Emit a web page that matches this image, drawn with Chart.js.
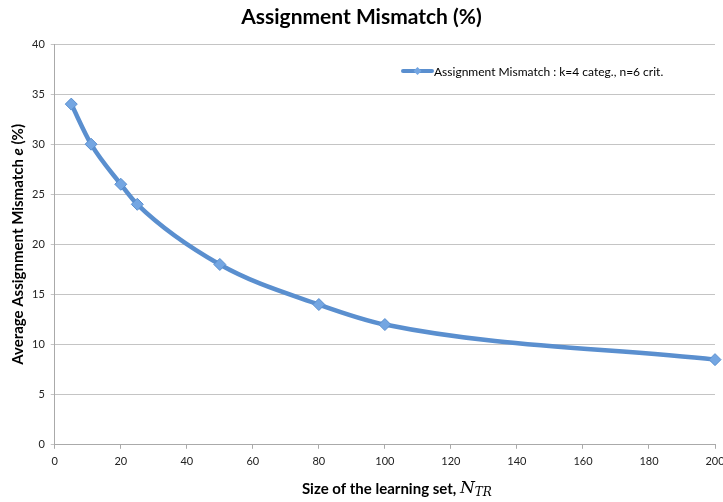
<!DOCTYPE html>
<html>
<head>
<meta charset="utf-8">
<script src="https://cdn.jsdelivr.net/npm/chart.js@4"></script>
<style>
  html, body { margin: 0; padding: 0; background: #fff; overflow: hidden; }
  #box { width: 723px; height: 502px; }
</style>
</head>
<body>
<div id="box"><canvas id="grafico"></canvas></div>
<script>
const tamanhos = [5, 11, 20, 25, 50, 80, 100, 200];
const erros = [34, 30, 26, 24, 18, 14, 12, 8.5];
const rotuloSerie = "Assignment Mismatch : k=4 categ., n=6 crit.";
const tituloGrafico = "Assignment Mismatch (%)";
const tituloX = ["Size of the learning set, ", "N", "TR"];
const tituloY = ["Average Assignment Mismatch ", "e", " (%)"];

const corLinha = "#5a8fcf";
const corPonto = "#74a6e2";

const textosEixos = {
  id: "textosEixos",
  afterDraw(chart) {
    const ctx = chart.ctx;
    const area = chart.chartArea;
    ctx.save();
    ctx.fillStyle = "#000";
    ctx.textBaseline = "alphabetic";

    // titulo do grafico, centrado na pagina
    ctx.font = "bold 21px Lato";
    ctx.textAlign = "center";
    ctx.fillText(tituloGrafico, chart.width / 2, 24);

    // titulo do eixo x
    const fonteX = "bold 15px Lato";
    const fonteN = "italic 17px 'DejaVu Serif'";
    const fonteSub = "italic 12px 'DejaVu Serif'";
    ctx.font = fonteX;
    const w1 = ctx.measureText(tituloX[0]).width;
    ctx.font = fonteN;
    const w2 = ctx.measureText(tituloX[1]).width;
    ctx.font = fonteSub;
    const w3 = ctx.measureText(tituloX[2]).width;
    const total = w1 + w2 + w3;
    let x = (area.left + area.right) / 2 - total / 2 + 12;
    const yBase = 494;
    ctx.textAlign = "left";
    ctx.font = fonteX;
    ctx.fillText(tituloX[0], x, yBase);
    x += w1;
    ctx.font = fonteN;
    ctx.fillText(tituloX[1], x, yBase - 1);
    x += w2;
    ctx.font = fonteSub;
    ctx.fillText(tituloX[2], x, yBase + 2);

    // titulo do eixo y
    const fonteY = "bold 15px Lato";
    const fonteE = "bold italic 15px Lato";
    ctx.font = fonteY;
    const a1 = ctx.measureText(tituloY[0]).width;
    const a3 = ctx.measureText(tituloY[2]).width;
    ctx.font = fonteE;
    const a2 = ctx.measureText(tituloY[1]).width;
    const totalY = a1 + a2 + a3;
    ctx.translate(23, (area.top + area.bottom) / 2);
    ctx.rotate(-Math.PI / 2);
    let p = -totalY / 2;
    ctx.font = fonteY;
    ctx.fillText(tituloY[0], p, 0);
    p += a1;
    ctx.font = fonteE;
    ctx.fillText(tituloY[1], p, 0);
    p += a2;
    ctx.font = fonteY;
    ctx.fillText(tituloY[2], p, 0);
    ctx.restore();
  }
};

const legendaInterna = {
  id: "legendaInterna",
  afterDraw(chart) {
    const ctx = chart.ctx;
    const ds = chart.data.datasets[0];
    const y = 71;
    const x0 = 403;
    const x1 = 432;
    ctx.save();
    ctx.strokeStyle = ds.borderColor;
    ctx.lineWidth = 4;
    ctx.lineCap = "round";
    ctx.beginPath();
    ctx.moveTo(x0, y);
    ctx.lineTo(x1, y);
    ctx.stroke();
    const cx = (x0 + x1) / 2;
    ctx.fillStyle = ds.pointBackgroundColor;
    ctx.beginPath();
    ctx.moveTo(cx, y - 4);
    ctx.lineTo(cx + 4, y);
    ctx.lineTo(cx, y + 4);
    ctx.lineTo(cx - 4, y);
    ctx.closePath();
    ctx.fill();
    ctx.fillStyle = "#000";
    ctx.font = "12px Lato";
    ctx.textBaseline = "middle";
    ctx.textAlign = "left";
    ctx.fillText(ds.label, x1 + 2, y + 1);
    ctx.restore();
  }
};

new Chart(document.getElementById("grafico"), {
  type: "line",
  data: {
    datasets: [{
      label: rotuloSerie,
      data: tamanhos.map((t, i) => ({ x: t, y: erros[i] })),
      borderColor: corLinha,
      backgroundColor: corPonto,
      pointBackgroundColor: corPonto,
      pointBorderColor: corLinha,
      pointBorderWidth: 1,
      pointStyle: "rectRot",
      pointRadius: 6,
      borderWidth: 4.5,
      tension: 0.4,
      cubicInterpolationMode: "monotone",
      clip: false
    }]
  },
  options: {
    responsive: true,
    maintainAspectRatio: false,
    animation: false,
    layout: { padding: { left: 26, right: 0, top: 44, bottom: 28 } },
    plugins: {
      legend: { display: false },
      tooltip: { enabled: false },
      title: { display: false }
    },
    scales: {
      x: {
        type: "linear",
        min: 0,
        max: 200,
        afterFit(scale) { scale.paddingRight = 8; },
        ticks: {
          stepSize: 20,
          color: "#222",
          font: { family: "Lato", size: 11 },
          padding: 6,
          maxRotation: 0
        },
        grid: { drawOnChartArea: false, drawTicks: true, tickLength: 4, color: "#aaa" },
        border: { color: "#aaa" }
      },
      y: {
        min: 0,
        max: 40,
        ticks: {
          stepSize: 5,
          color: "#222",
          font: { family: "Lato", size: 11 },
          padding: 6
        },
        grid: { color: "#c4c4c4", tickLength: 4 },
        border: { color: "#aaa" }
      }
    }
  },
  plugins: [textosEixos, legendaInterna]
});
</script>
</body>
</html>
